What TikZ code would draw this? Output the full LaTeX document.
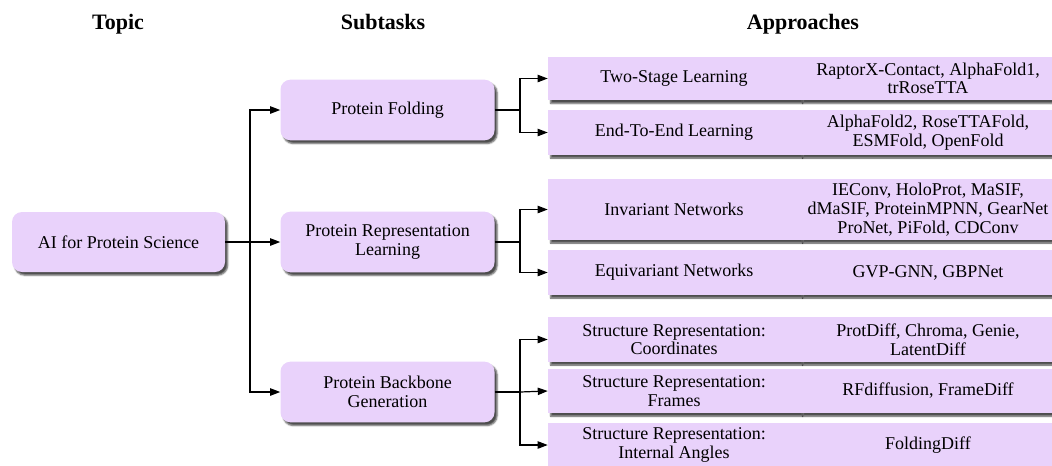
\documentclass[tikz,border=0pt]{standalone}
\usepackage{fontspec}
\setmainfont{Liberation Serif}
\usetikzlibrary{arrows.meta,shadows,shadows.blur}
\definecolor{boxfill}{RGB}{233,210,251}
\tikzset{
  shad/.style={blur shadow={shadow xshift=2pt,shadow yshift=-2.4pt,shadow blur steps=4,shadow blur radius=1.2pt,shadow opacity=70}},
  rbox/.style={shad,fill=boxfill,draw=none,rounded corners=7.5pt,minimum width=160.5pt,minimum height=45.5pt,inner sep=1pt,align=center,font=\fontsize{13.5pt}{14pt}\selectfont},
  abox/.style={shad,fill=boxfill,draw=none,minimum width=189pt,inner sep=1pt,align=center,font=\fontsize{13.5pt}{14pt}\selectfont},
  ebox/.style={shad,fill=boxfill,draw=none,minimum width=192pt,inner sep=1pt,align=center,font=\fontsize{13.5pt}{14pt}\selectfont},
  hdr/.style={font=\fontsize{16.5pt}{18pt}\selectfont\bfseries,anchor=base,inner sep=0pt},
  conn/.style={line width=0.9pt},
  arr/.style={line width=0.9pt,-{Triangle[length=7.5pt,width=5.5pt]}},
}
\begin{document}
\begin{tikzpicture}[x=0.75pt,y=-0.75pt]
\useasboundingbox (0,0) rectangle (1052,465);
\clip (0,0) rectangle (1052,465);
% headers
\node[hdr] (h1) at (118,29) {Topic};
\node[hdr] (h2) at (383,29) {Subtasks};
\node[hdr] (h3) at (803,29) {Approaches};
% root
\node[rbox,minimum width=159.75pt,minimum height=45pt] (root) at (118.5,242) {AI for Protein Science};
% subtasks
\node[rbox] (s1) at (387.5,110) {Protein Folding};
\node[rbox] (s2) at (387.5,242) {Protein Representation\\Learning};
\node[rbox] (s3) at (387.5,392) {Protein Backbone\\Generation};
% approaches
\node[abox,minimum height=32.5pt] (a1) at (674,78.5) {Two-Stage Learning};
\node[ebox,minimum height=32.5pt] (e1) at (928,78.5) {RaptorX-Contact, AlphaFold1,\\trRoseTTA};
\node[abox,minimum height=33.5pt] (a2) at (674,132.5) {End-To-End Learning};
\node[ebox,minimum height=33.5pt] (e2) at (928,132.5) {AlphaFold2, RoseTTAFold,\\ESMFold, OpenFold};
\node[abox,minimum height=45.5pt] (a3) at (674,209.5) {Invariant Networks};
\node[ebox,minimum height=45.5pt] (e3) at (928,209.5) {IEConv, HoloProt, MaSIF,\\dMaSIF, ProteinMPNN, GearNet\\ProNet, PiFold, CDConv};
\node[abox,minimum height=33.5pt] (a4) at (674,272.5) {Equivariant Networks};
\node[ebox,minimum height=33.5pt] (e4) at (928,272.5) {GVP-GNN, GBPNet};
\node[abox,minimum height=33.5pt] (a5) at (674,339.5) {Structure Representation:\\Coordinates};
\node[ebox,minimum height=33.5pt] (e5) at (928,339.5) {ProtDiff, Chroma, Genie,\\LatentDiff};
\node[abox,minimum height=33pt] (a6) at (674,391) {Structure Representation:\\Frames};
\node[ebox,minimum height=33pt] (e6) at (928,391) {RFdiffusion, FrameDiff};
\node[abox,minimum height=33pt] (a7) at (674,445) {Structure Representation:\\Internal Angles};
\node[ebox,minimum height=33pt] (e7) at (928,445) {FoldingDiff};
% connectors root -> subtasks
\coordinate (jr) at (250,242);
\draw[arr] (root.east) -- (s2.west);
\draw[arr] (jr) |- (s1.west);
\draw[arr] (jr) |- (s3.west);
% subtasks -> approaches
\coordinate (j1) at (520,110);
\coordinate (j2) at (520,242);
\coordinate (j3) at (520,392);
\draw[conn] (s1.east) -- (j1);
\draw[arr] (j1) |- (a1.west);
\draw[arr] (j1) |- (a2.west);
\draw[conn] (s2.east) -- (j2);
\draw[arr] (j2) |- (a3.west);
\draw[arr] (j2) |- (a4.west);
\draw[conn] (s3.east) -- (j3);
\draw[arr] (j3) |- (a5.west);
\draw[arr] (j3) -- (a6.west);
\draw[arr] (j3) |- (a7.west);
\end{tikzpicture}
\end{document}
